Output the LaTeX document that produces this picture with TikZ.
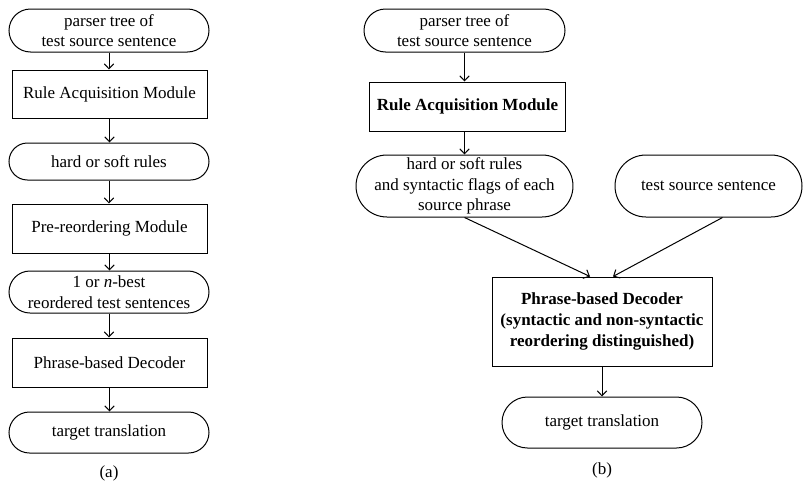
\documentclass[tikz,border=0pt]{standalone}
\usepackage{fontspec}
\setmainfont{Liberation Serif}
\usetikzlibrary{shapes.misc,arrows.meta}
\newlength{\du}
\setlength{\du}{1pt}
\tikzset{
  terminal/.style={draw,rounded rectangle,inner sep=0pt,align=center},
  module/.style={draw,rectangle,inner sep=0pt,align=center},
  flowline/.style={-{Straight Barb[length=5pt,width=9.5pt]}},
}
\begin{document}
\begin{tikzpicture}[yscale=-1,line width=1pt,
  font=\fontsize{17}{20.5}\selectfont]
\useasboundingbox (0\du,0\du) rectangle (803\du,482\du);
% (a) pre-reordering
\node[terminal,minimum width=200\du,minimum height=43\du] (aTree) at (109\du,30.5\du){parser tree of\\test source sentence};
\node[module,minimum width=195\du,minimum height=48\du] (aRule) at (109.5\du,94\du){Rule Acquisition Module};
\node[terminal,minimum width=200\du,minimum height=37\du] (aRules) at (109\du,161.5\du){hard or soft rules};
\node[module,minimum width=195\du,minimum height=49\du] (aPre) at (109.5\du,228.5\du){Pre-reordering Module};
\node[terminal,minimum width=200\du,minimum height=42\du] (aBest) at (109\du,292\du){1 or \textit{n}-best\\reordered test sentences};
\node[module,minimum width=195\du,minimum height=49\du] (aDec) at (109.5\du,362.5\du){Phrase-based Decoder};
\node[terminal,minimum width=200\du,minimum height=41\du] (aOut) at (109\du,432.5\du){target translation};
\node (aCap) at (109\du,473\du){(a)};
\draw[flowline] (aTree.south) -- (aTree.south |- aRule.north);
\draw[flowline] (aRule.south) -- (aRule.south |- aRules.north);
\draw[flowline] (aRules.south) -- (aRules.south |- aPre.north);
\draw[flowline] (aPre.south) -- (aPre.south |- aBest.north);
\draw[flowline] (aBest.south) -- (aBest.south |- aDec.north);
\draw[flowline] (aDec.south) -- (aDec.south |- aOut.north);
% (b) integrated decoding
\node[terminal,minimum width=201\du,minimum height=43\du] (bTree) at (464.5\du,30.5\du){parser tree of\\test source sentence};
\node[module,minimum width=196\du,minimum height=49\du,font=\fontsize{17}{20.5}\selectfont\bfseries] (bRule) at (467.5\du,106.5\du){Rule Acquisition Module};
\node[terminal,minimum width=201\du,minimum height=62\du] (bRules) at (464.5\du,186\du){hard or soft rules\\and syntactic flags of each\\source phrase};
\node[terminal,minimum width=187\du,minimum height=62\du] (bSrc) at (708.5\du,186\du){test source sentence};
\node[module,minimum width=220\du,minimum height=89\du,font=\fontsize{17}{21}\selectfont\bfseries] (bDec) at (602\du,321.5\du){Phrase-based Decoder\\(syntactic and non-syntactic\\reordering distinguished)};
\node[terminal,minimum width=200\du,minimum height=51\du] (bOut) at (602\du,422.5\du){target translation};
\node (bCap) at (602\du,470\du){(b)};
\draw[flowline] (bTree.south) -- (bTree.south |- bRule.north);
\draw[flowline] (bTree.south |- bRule.south) -- (bTree.south |- bRules.north);
\draw[flowline] (bRules.south) -- ([xshift=-12\du]bDec.north);
\draw[flowline] ([xshift=14\du]bSrc.south) -- ([xshift=11\du]bDec.north);
\draw[flowline] (bDec.south) -- (bOut.north);
\end{tikzpicture}
\end{document}
